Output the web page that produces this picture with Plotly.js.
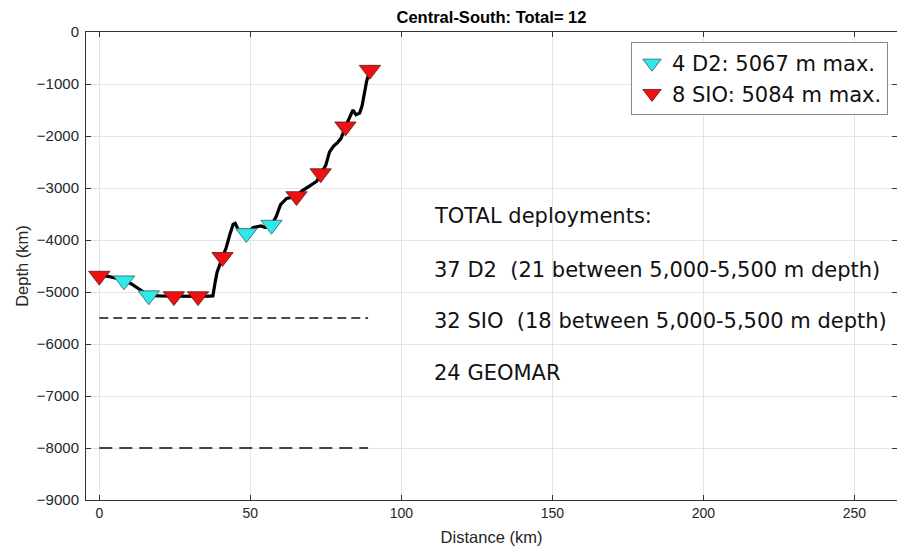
<!DOCTYPE html>
<html>
<head>
<meta charset="utf-8">
<script src="https://cdn.plot.ly/plotly-3.0.1.min.js"></script>
<style>
  html, body { margin: 0; padding: 0; background: #fff; }
  #chart { width: 897px; height: 549px; }
</style>
</head>
<body>
<div id="chart"></div>
<script>
// ---- Data ----
// Bathymetry profile along the track
const profileDistance = [0.0, 3.0, 6.0, 8.2, 10.5, 12.5, 14.5, 16.4, 20.0, 24.7, 28.0, 32.7, 36.0, 37.6,
  38.4, 39.0, 40.8, 42.0, 43.2, 44.3, 45.0, 46.0, 48.7, 51.0, 53.5, 55.0, 57.0, 58.5, 60.0, 62.0,
  65.3, 67.0, 69.7, 72.0, 73.3, 75.0, 76.2, 77.5, 78.8, 80.0, 81.5, 82.5, 83.5, 84.0, 85.0, 86.2,
  87.0, 87.8, 88.5, 89.6];
const profileDepth = [-4680, -4700, -4740, -4780, -4840, -4920, -4990, -5067, -5075, -5084, -5080, -5084, -5080, -5075,
  -4800, -4620, -4330, -4150, -3900, -3700, -3680, -3800, -3870, -3760, -3730, -3760, -3710, -3560, -3320, -3200,
  -3160, -3060, -2960, -2870, -2730, -2560, -2310, -2200, -2130, -2050, -1820, -1700, -1570, -1500, -1590, -1560,
  -1420, -1150, -950, -730];

// D2 deployments
const d2Distance = [8.2, 16.4, 48.7, 57.0];
const d2Depth = [-4780, -5067, -3870, -3710];

// SIO deployments
const sioDistance = [0.0, 24.7, 32.7, 40.8, 65.3, 73.3, 81.5, 89.6];
const sioDepth = [-4690, -5084, -5084, -4330, -3160, -2720, -1820, -730];

// Reference depth lines
const refLineDepths = [-5500, -8000];
const refLineExtent = [0, 89];

// Text
const chartTitle = 'Central-South: Total= 12';
const xTitle = 'Distance (km)';
const yTitle = 'Depth (km)';
const infoLines = [
  'TOTAL deployments:',
  '37 D2  (21 between 5,000-5,500 m depth)',
  '32 SIO  (18 between 5,000-5,500 m depth)',
  '24 GEOMAR'
];
const infoDepths = [-3535, -4571, -5554, -6548];
const infoDistance = 110;

// Ticks
const xTicks = [0, 50, 100, 150, 200, 250];
const yTicks = [0, -1000, -2000, -3000, -4000, -5000, -6000, -7000, -8000, -9000];

// ---- Build traces ----
const maxDepth = arr => Math.max(...arr.map(v => Math.abs(v)));

const traces = [];
traces.push({
  x: profileDistance, y: profileDepth, type: 'scatter', mode: 'lines',
  line: {color: '#000000', width: 3.2}, showlegend: false, hoverinfo: 'skip'
});
const refStyles = [
  {color: '#111111', width: 1.3, dash: '9px,5px'},
  {color: '#444444', width: 2.2, dash: '13px,7px'}
];
refLineDepths.forEach((d, i) => {
  traces.push({
    x: refLineExtent, y: [d, d], type: 'scatter', mode: 'lines',
    line: refStyles[i], showlegend: false, hoverinfo: 'skip'
  });
});
traces.push({
  x: d2Distance, y: d2Depth, type: 'scatter', mode: 'markers',
  name: d2Distance.length + ' D2: ' + maxDepth(d2Depth) + ' m max.',
  marker: {symbol: 'triangle-down', size: 18.5, color: '#2ee8ea', line: {color: '#3a5a5a', width: 0.8}}
});
traces.push({
  x: sioDistance, y: sioDepth, type: 'scatter', mode: 'markers',
  name: sioDistance.length + ' SIO: ' + maxDepth(sioDepth) + ' m max.',
  marker: {symbol: 'triangle-down', size: 18.5, color: '#ee1111', line: {color: '#5a1a1a', width: 0.8}}
});

const annotations = infoLines.map((t, i) => ({
  text: t, x: infoDistance, y: infoDepths[i], xref: 'x', yref: 'y',
  xanchor: 'left', yanchor: 'middle', showarrow: false,
  font: {family: 'DejaVu Sans, sans-serif', size: 21, color: '#111111'}
}));

const axisCommon = {
  ticks: 'inside', ticklen: 5, tickwidth: 1, tickcolor: '#333333',
  showline: true, linecolor: '#333333', linewidth: 1, mirror: 'ticks',
  showgrid: true, gridcolor: '#e4e4e4', gridwidth: 1, zeroline: false,
  automargin: false
};

const layout = {
  width: 897, height: 549,
  margin: {l: 86, r: 0, t: 32, b: 49, pad: 0},
  paper_bgcolor: '#ffffff', plot_bgcolor: '#ffffff',
  font: {family: 'Liberation Sans, Arial, sans-serif', color: '#262626'},
  title: {
    text: chartTitle, x: 0.5, xref: 'paper', xanchor: 'center',
    y: 1 - 17.5 / 549, yref: 'container', yanchor: 'middle',
    font: {size: 16.5, weight: 'bold', color: '#000000'}
  },
  xaxis: Object.assign({}, axisCommon, {
    range: [-4.4, 264.1], tickmode: 'array', tickvals: xTicks, ticktext: xTicks.map(String),
    tickfont: {size: 14, color: '#262626'},
    title: {text: xTitle, font: {size: 16.5, color: '#262626'}, standoff: 11}
  }),
  yaxis: Object.assign({}, axisCommon, {
    range: [-9000, 0], tickmode: 'array', tickvals: yTicks,
    tickfont: {size: 15, color: '#262626'},
    ticklabelstandoff: 3,
    title: {text: yTitle, font: {size: 16.5, color: '#262626'}, standoff: 4}
  }),
  showlegend: true,
  legend: {
    x: (888 - 86) / 811, xanchor: 'right', xref: 'paper',
    y: (500 - 42) / 468, yanchor: 'top', yref: 'paper',
    bgcolor: '#ffffff', bordercolor: '#8a8a8a', borderwidth: 1,
    font: {family: 'DejaVu Sans, sans-serif', size: 21, color: '#111111'},
    itemsizing: 'trace', tracegroupgap: 0
  },
  annotations: annotations
};

Plotly.newPlot('chart', traces, layout, {displayModeBar: false, staticPlot: true});
</script>
</body>
</html>
